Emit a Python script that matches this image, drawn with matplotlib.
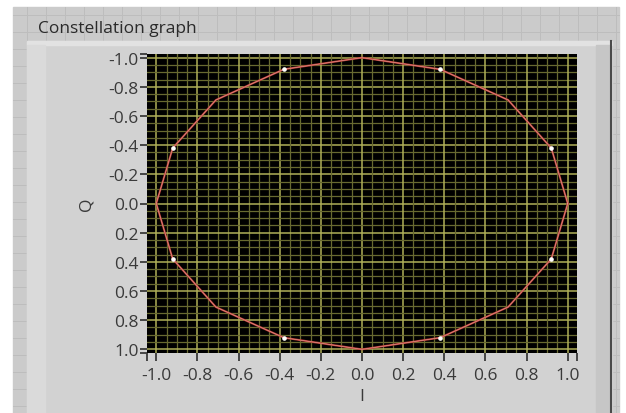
import numpy as np
import matplotlib
matplotlib.use("Agg")
import matplotlib.pyplot as plt
from matplotlib.patches import Rectangle

# constellation trace (I, Q)
trace_i = [1.0, 0.92, 0.71, 0.38, 0.0, -0.38, -0.71, -0.92,
           -1.0, -0.92, -0.71, -0.38, 0.0, 0.38, 0.71, 0.92, 1.0]
trace_q = [0.0, 0.38, 0.71, 0.92, 1.0, 0.92, 0.71, 0.38,
           0.0, -0.38, -0.71, -0.92, -1.0, -0.92, -0.71, -0.38, 0.0]
# symbol points (white dots)
sym_i = [0.92, 0.38, -0.38, -0.92, -0.92, -0.38, 0.38, 0.92]
sym_q = [0.38, 0.92, 0.92, 0.38, -0.38, -0.92, -0.92, -0.38]

tick_vals = [-1.0, -0.8, -0.6, -0.4, -0.2, 0.0, 0.2, 0.4, 0.6, 0.8, 1.0]
tick_labels = ["-1.0", "-0.8", "-0.6", "-0.4", "-0.2", "0.0",
               "0.2", "0.4", "0.6", "0.8", "1.0"]

W, H = 626, 414
fig = plt.figure(figsize=(W / 100, H / 100), dpi=100)
fig.patch.set_facecolor("white")
font = "Open Sans"

# background: LabVIEW front panel with its grid
bg = fig.add_axes([0, 0, 1, 1])
bg.set_xlim(0, W)
bg.set_ylim(H, 0)
bg.axis("off")
bg.add_patch(Rectangle((13, 8), 606, 406, color="#cbcbcb", zorder=0))
for gx in np.arange(27, 619, 19):
    bg.plot([gx, gx], [8, H], color="#bdbdbd", lw=0.7, zorder=1)
for gy in np.arange(16, H, 17):
    bg.plot([13, 619], [gy, gy], color="#bdbdbd", lw=0.7, zorder=1)

# graph panel
bg.add_patch(Rectangle((27, 42), 585, 372, color="#d2d2d2", zorder=2))
bg.add_patch(Rectangle((27, 42), 585, 4, color="#e2e2e2", zorder=3))
bg.add_patch(Rectangle((27, 46), 18, 368, color="#dadada", zorder=3))
bg.add_patch(Rectangle((596, 46), 14, 368, color="#c6c6c6", zorder=3))
bg.plot([611, 611], [42, H], color="#4a4a4a", lw=1.5, zorder=4)
bg.text(38, 29, "Constellation graph", fontsize=12.5, family=font,
        color="#2a2a2a", va="center", ha="left", zorder=5)

# plot area
ax = fig.add_axes([147 / W, (H - 354) / H, 430 / W, 299 / H])
ax.set_facecolor("black")
ax.set_xlim(-1.045, 1.045)
ax.set_ylim(1.025, -1.025)

for v in np.arange(-1.0, 1.001, 0.05):
    major = abs(round(v / 0.2) * 0.2 - v) < 1e-6
    col = "#b0b058" if major else "#686a30"
    lw = 1.1 if major else 0.9
    ax.axvline(v, color=col, lw=lw, zorder=1)
    ax.axhline(v, color=col, lw=lw, zorder=1)

ax.plot(trace_i, trace_q, color="#b83a34", lw=1.4, zorder=3)
ax.plot(trace_i, trace_q, color="#e0948a", lw=0.5, zorder=4)
ax.plot(sym_i, sym_q, "o", color="white", ms=2.3, mec="white", zorder=5)

for s in ax.spines.values():
    s.set_visible(False)

ax.set_xticks(tick_vals)
ax.set_xticklabels(tick_labels)
ax.set_yticks(tick_vals)
ax.set_yticklabels(tick_labels)
ax.set_xticks([-1.045, 1.045], minor=True)
ax.set_yticks([-1.025, 1.025], minor=True)
ax.tick_params(which="both", direction="out", color="#3a3a3a", width=1.3,
               labelsize=12.5, labelcolor="#3a3a3a")
ax.tick_params(axis="x", which="both", length=6, pad=4)
ax.tick_params(axis="y", which="both", length=5, pad=1)
for lab in ax.get_xticklabels() + ax.get_yticklabels():
    lab.set_family(font)

ax.set_xlabel("I", fontsize=12.5, family=font, color="#3a3a3a", labelpad=4)
ax.set_ylabel("Q", fontsize=12.5, family=font, color="#3a3a3a", labelpad=10)

fig.savefig("out.png", dpi=100, facecolor=fig.get_facecolor())
